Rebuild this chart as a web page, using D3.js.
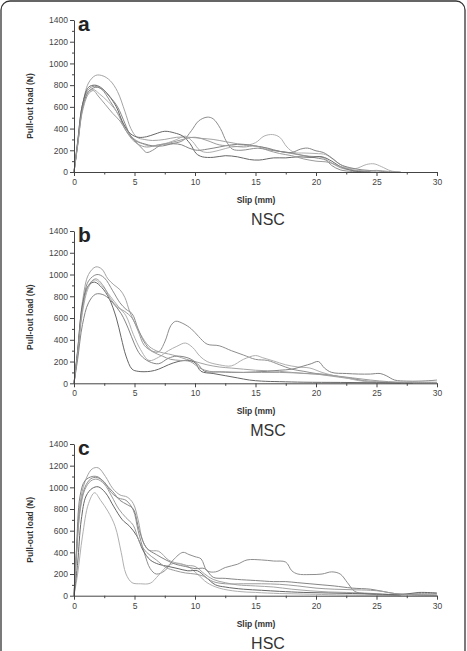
<!DOCTYPE html>
<html>
<head>
<meta charset="utf-8">
<script src="https://cdn.jsdelivr.net/npm/d3@7"></script>
<style>
  body { margin: 0; background: #fff; }
  svg { display: block; font-family: "Liberation Sans", Arial, sans-serif; }
</style>
</head>
<body>
<div id="chart"></div>
<script>
// data: [slip (mm), pull-out load (N)]
const nscCurves = [
  [[0,0],[0.3,250],[0.7,600],[1.2,820],[1.8,890],[2.4,885],[3,840],[3.6,740],[4.2,560],[4.7,400],[5.2,320],[5.8,300],[6.5,290],[7.5,300],[8.5,320],[9.5,320],[10.5,310],[11.5,300],[12.5,280],[13.5,260],[14.5,245],[15.5,230],[16.5,200],[17.5,180],[18.5,160],[19.5,145],[20.5,135],[21.2,90],[22,40],[23,15],[24,5],[25,0]],
  [[0,0],[0.3,280],[0.7,620],[1.2,760],[1.7,790],[2.3,760],[3,650],[3.7,520],[4.3,380],[5,290],[5.6,220],[6,180],[6.5,200],[7.2,250],[8,260],[9,290],[9.7,380],[10.3,470],[11,505],[11.5,490],[12.1,400],[12.6,280],[13.1,210],[13.8,200],[14.5,210],[15.2,220],[16,205],[17,190],[18,175],[19,150],[20,130],[20.8,110],[21.3,60],[22,20],[23,5],[24,0]],
  [[0,0],[0.3,260],[0.7,600],[1.2,740],[1.6,760],[2.1,720],[2.8,650],[3.5,560],[4.2,420],[4.8,320],[5.5,270],[6.2,240],[7,250],[7.8,270],[8.5,300],[9.2,330],[9.8,280],[10.4,200],[11,180],[12,200],[13,230],[14,240],[15,270],[15.7,330],[16.4,345],[17,320],[17.6,230],[18.2,180],[19,175],[20,170],[20.8,160],[21.5,110],[22.3,50],[23.2,30],[24.2,70],[24.8,75],[25.4,50],[26.2,10],[27,0]],
  [[0,0],[0.3,270],[0.7,620],[1.2,780],[1.7,800],[2.2,780],[2.9,700],[3.5,600],[4.1,440],[4.7,350],[5.3,320],[6,325],[6.7,350],[7.5,375],[8.3,360],[9,330],[9.6,260],[10.1,170],[10.6,140],[11.5,135],[12.5,150],[13.5,140],[14.5,115],[15.3,110],[16.5,130],[17.5,130],[18.5,140],[19.5,135],[20.5,140],[21.3,100],[22,50],[22.8,20],[23.5,5],[24.5,0]],
  [[0,0],[0.3,250],[0.7,580],[1.2,740],[1.8,780],[2.4,760],[3,690],[3.6,600],[4.2,450],[4.7,330],[5.2,280],[5.8,260],[6.5,240],[7.3,240],[8.2,260],[8.9,250],[9.5,220],[10.2,200],[11,210],[12,230],[13,250],[14,255],[15,240],[16,220],[17,190],[18,180],[18.7,210],[19.3,220],[20,195],[20.6,180],[21.3,130],[22,70],[22.8,40],[23.8,20],[25,10],[26,0]],
  [[0,0],[0.3,240],[0.7,560],[1.2,720],[1.6,750],[2,700],[2.6,620],[3.2,540],[3.8,470],[4.3,380],[4.8,300],[5.4,250],[6,230],[7,250],[8,270],[9,300],[10,320],[11,290],[12,250],[13,240],[14,230],[15,240],[16,200],[17,170],[18,150],[19,120],[20,100],[21,90],[22,50],[23,20],[24,10],[25,15],[26,5],[27,0]]
];
const mscCurves = [
  [[0,0],[0.3,300],[0.7,750],[1.2,1000],[1.8,1070],[2.3,1050],[2.8,960],[3.3,905],[3.8,860],[4.2,790],[4.6,660],[5,560],[5.5,450],[6.2,340],[7,290],[7.8,270],[8.5,250],[9.3,220],[10,200],[11,170],[12,150],[13,140],[14,130],[15,120],[16,115],[17,110],[18,100],[19,90],[20,85],[21,70],[22,55],[23,40],[24,25],[25,15],[26,10],[27,5],[28,0]],
  [[0,0],[0.3,280],[0.7,700],[1.2,940],[1.9,1000],[2.5,970],[3.2,850],[3.8,740],[4.3,680],[4.8,640],[5.3,500],[5.8,380],[6.4,300],[7,290],[7.5,380],[8,530],[8.4,570],[9,550],[9.7,500],[10.3,430],[11,360],[12,345],[13,300],[14,260],[15,220],[16,210],[17,170],[18,130],[19,110],[20,90],[21,80],[22,60],[23,45],[24,20],[25,10],[26,5],[27,0]],
  [[0,0],[0.3,260],[0.7,650],[1.2,880],[1.7,950],[2.3,900],[3,800],[3.7,700],[4.3,620],[4.9,450],[5.5,310],[6.2,210],[7,240],[7.8,300],[8.5,340],[9.2,370],[9.8,330],[10.4,250],[11,200],[12,170],[13,160],[14,220],[15,255],[15.6,235],[16.5,205],[17.5,170],[18.5,150],[19.5,140],[20.5,100],[21.5,70],[22.5,50],[23.5,25],[24.5,15],[25.5,10],[27,5],[28,0]],
  [[0,0],[0.3,300],[0.7,720],[1.2,900],[1.7,930],[2.3,880],[2.9,780],[3.5,600],[3.9,420],[4.3,250],[4.8,130],[5.3,110],[6.3,110],[7,130],[7.8,170],[8.6,200],[9.4,210],[10,190],[10.5,110],[11.5,90],[12.5,70],[13.5,50],[14.5,30],[15.5,20],[17,15],[19,10],[22,8],[25,5],[28,5],[30,5]],
  [[0,0],[0.3,220],[0.7,540],[1.2,740],[1.8,820],[2.5,810],[3.2,740],[3.9,640],[4.5,500],[5,360],[5.5,260],[6.2,200],[7,180],[7.8,230],[8.5,250],[9.5,230],[10.2,180],[10.8,110],[12,105],[13,100],[14,100],[15,105],[16,110],[17,120],[18,130],[19,160],[19.6,180],[20.2,200],[20.7,140],[21.3,100],[22.5,90],[23.5,85],[24.5,85],[25.3,90],[25.8,70],[26.5,30],[27.5,20],[28.5,20],[29.5,25],[30,30]],
  [[0,0],[0.3,280],[0.7,680],[1.2,900],[1.8,960],[2.4,900],[3,780],[3.6,700],[4.2,660],[4.8,600],[5.3,480],[5.8,350],[6.5,290],[7.3,250],[8,220],[8.8,210],[9.6,200],[10.4,140],[11.2,110],[12.5,105],[14,100],[15.5,100],[17,100],[18.5,95],[20,85],[21.5,70],[23,50],[24.5,30],[26,15],[27.5,10],[29,10],[30,10]]
];
const hscCurves = [
  [[0,0],[0.2,400],[0.5,850],[0.9,1050],[1.5,1170],[2,1180],[2.6,1100],[3.2,990],[3.8,930],[4.4,910],[4.9,850],[5.3,700],[5.7,500],[6.2,420],[7,410],[7.8,330],[8.5,300],[9.3,280],[10,270],[10.8,200],[11.5,150],[12.5,120],[13.5,100],[15,90],[16.5,80],[18,60],[19.5,45],[21,35],[22.5,30],[24,25],[25.5,15],[27,10],[28.5,20],[30,20]],
  [[0,0],[0.2,380],[0.5,800],[0.9,1000],[1.4,1080],[1.9,1090],[2.5,1050],[3.1,950],[3.7,900],[4.3,880],[4.9,790],[5.3,600],[5.8,400],[6.3,250],[6.8,200],[7.5,230],[8.2,330],[9,400],[9.5,380],[10,360],[10.5,340],[11,230],[11.7,220],[12.5,260],[13.5,290],[14.3,330],[15.5,330],[16.5,320],[17.5,310],[18,230],[18.5,200],[19.5,195],[20.5,200],[21.3,220],[22,200],[22.6,120],[23.2,40],[24,20],[25,10],[26,5],[27,0]],
  [[0,0],[0.3,200],[0.7,550],[1.2,850],[1.7,950],[2.2,880],[2.8,780],[3.4,640],[3.9,400],[4.3,200],[4.8,120],[5.5,110],[6.3,115],[7,190],[7.8,280],[8.6,300],[9.4,270],[10.2,200],[11,120],[12,70],[13.5,40],[15,30],[17,20],[19,15],[21,10],[24,5],[27,5],[30,5]],
  [[0,0],[0.3,300],[0.6,700],[1,920],[1.5,990],[2,1005],[2.6,950],[3.3,820],[4,700],[4.6,640],[5.2,550],[5.7,420],[6.3,330],[7,290],[7.8,270],[8.6,250],[9.4,230],[10.2,230],[10.9,170],[11.7,100],[12.5,80],[14,60],[15.5,50],[17,40],[19,30],[21,25],[23,20],[25,15],[27,10],[28.5,30],[30,25]],
  [[0,0],[0.2,420],[0.5,920],[0.9,1060],[1.5,1100],[2,1095],[2.6,1030],[3.2,960],[3.8,880],[4.4,840],[4.9,800],[5.4,600],[6,440],[6.8,380],[7.6,330],[8.4,290],[9.2,270],[10,250],[10.8,250],[11.5,170],[12.5,160],[13.5,150],[15,140],[16.5,130],[17.5,130],[18.5,120],[19.5,110],[20.5,100],[21.5,90],[23,70],[24.5,60],[25.5,40],[26.5,20],[28,10],[30,5]],
  [[0,0],[0.2,350],[0.5,780],[0.9,980],[1.4,1060],[1.9,1075],[2.5,1030],[3.1,920],[3.7,800],[4.3,720],[4.9,650],[5.4,500],[6,400],[6.8,330],[7.6,260],[8.4,230],[9.2,210],[10,200],[10.7,180],[11.5,130],[12.5,110],[14,110],[15.5,110],[17,105],[18.5,90],[20,70],[21.5,60],[23,55],[24.5,50],[25.5,40],[26.5,20],[28,10],[30,5]]
];
const lineColors = ["#a4a4a4", "#8e8e8e", "#b0b0b0", "#666666", "#858585", "#9c9c9c"];
const yTicks = [0, 200, 400, 600, 800, 1000, 1200, 1400];
const xTicks = [0, 5, 10, 15, 20, 25, 30];

const W = 467, H = 651;
const left = 74, right = 437;

const svg = d3.select("#chart").append("svg")
  .attr("width", W)
  .attr("height", H);

// outer frame
svg.append("rect")
  .attr("x", 1).attr("y", 1)
  .attr("width", 464).attr("height", 670)
  .attr("rx", 9)
  .attr("fill", "none")
  .attr("stroke", "#333")
  .attr("stroke-width", 1.3);

const x = d3.scaleLinear().domain([0, 30]).range([left, right]);

function drawPanel(curves, letter, name, top, bottom) {
  let y = d3.scaleLinear().domain([0, 1400]).range([bottom, top]);
  let g = svg.append("g");

  let line = d3.line()
    .x(d => x(d[0]))
    .y(d => y(d[1]))
    .curve(d3.curveCatmullRom.alpha(0.5));

  g.append("g").selectAll("path")
    .data(curves)
    .enter()
    .append("path")
      .attr("d", line)
      .attr("fill", "none")
      .attr("stroke", (d, i) => lineColors[i])
      .attr("stroke-width", 1);

  // minor ticks
  g.append("g")
    .attr("transform", `translate(${left},0)`)
    .call(d3.axisLeft(y).tickValues(d3.range(100, 1400, 200)).tickSize(2).tickFormat(""))
    .call(a => a.select(".domain").remove());
  g.append("g")
    .attr("transform", `translate(0,${bottom})`)
    .call(d3.axisBottom(x).tickValues(d3.range(2.5, 30, 5)).tickSize(2.5).tickFormat(""))
    .call(a => a.select(".domain").remove());

  let yAxis = g.append("g")
    .attr("transform", `translate(${left},0)`)
    .call(d3.axisLeft(y).tickValues(yTicks).tickFormat(d3.format("d")).tickSize(4).tickSizeOuter(0).tickPadding(2));
  let xAxis = g.append("g")
    .attr("transform", `translate(0,${bottom})`)
    .call(d3.axisBottom(x).tickValues(xTicks).tickFormat(d3.format("d")).tickSize(4).tickSizeOuter(0).tickPadding(3));

  [yAxis, xAxis].forEach(a => {
    a.selectAll("path, line").attr("stroke", "#444").attr("stroke-width", 1);
    a.selectAll("text")
      .attr("fill", "#444")
      .style("font-size", "8.5px")
      .style("font-family", "Liberation Sans, Arial, sans-serif");
  });
  g.selectAll("line").attr("stroke", "#444");

  g.append("text")
    .attr("transform", `translate(33,${(top + bottom) / 2 + 10}) rotate(-90)`)
    .attr("text-anchor", "middle")
    .attr("font-size", 8.5)
    .attr("font-weight", "bold")
    .attr("fill", "#333")
    .text("Pull-out load (N)");

  g.append("text")
    .attr("x", 256).attr("y", bottom + 31)
    .attr("text-anchor", "middle")
    .attr("font-size", 8.5)
    .attr("font-weight", "bold")
    .attr("fill", "#333")
    .text("Slip (mm)");

  g.append("text")
    .attr("x", 268).attr("y", bottom + 53)
    .attr("text-anchor", "middle")
    .attr("font-size", 16)
    .attr("fill", "#333")
    .text(name);

  g.append("text")
    .attr("x", 78).attr("y", top + 11)
    .attr("font-size", 21)
    .attr("font-weight", "bold")
    .attr("fill", "#222")
    .text(letter);
}

drawPanel(nscCurves, "a", "NSC", 20, 172);
drawPanel(mscCurves, "b", "MSC", 231, 383.3);
drawPanel(hscCurves, "c", "HSC", 444, 595.7);
</script>
</body>
</html>
